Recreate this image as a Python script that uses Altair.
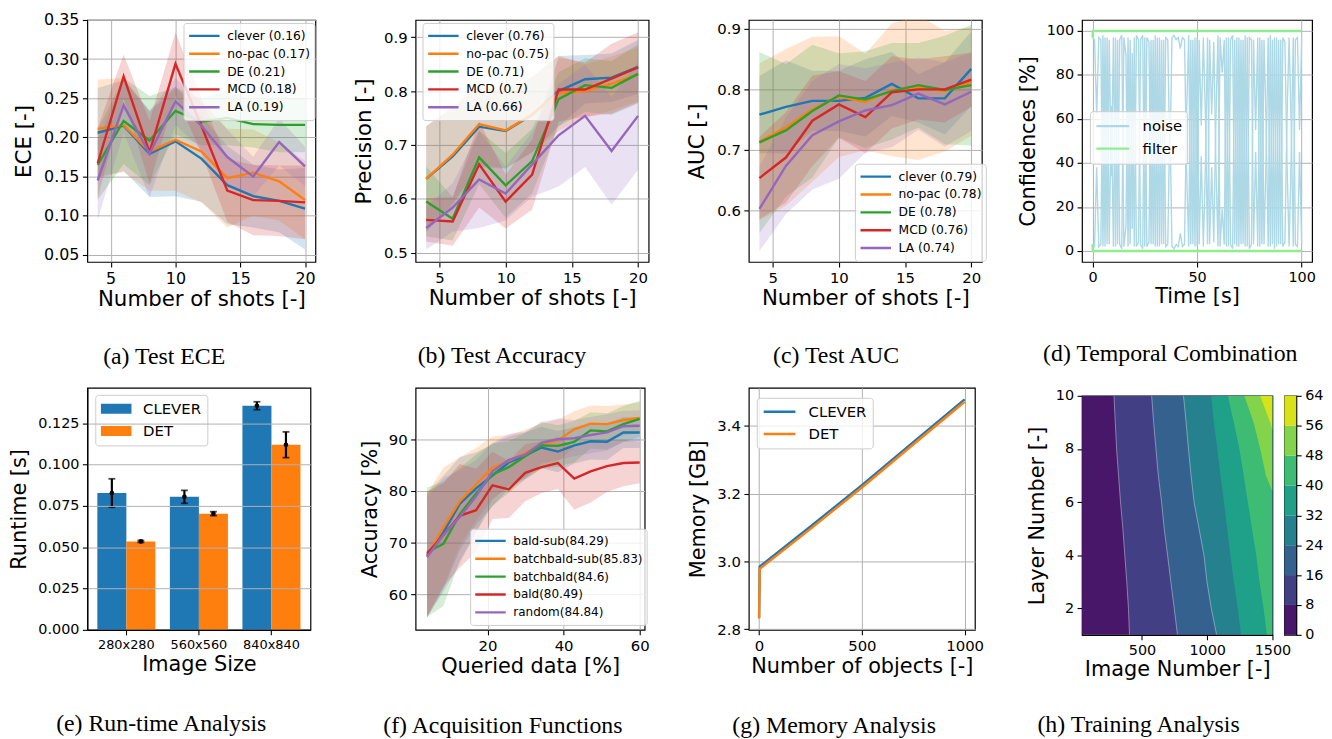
import altair as alt
import pandas as pd

SANS = "DejaVu Sans"
SERIF = "Liberation Serif"
TAB = ["#1f77b4", "#ff7f0e", "#2ca02c", "#d62728", "#9467bd"]

# ---------------- data ----------------
shots = [4, 6, 8, 10, 12, 14, 16, 18, 20]

ece_labels = ["clever (0.16)", "no-pac (0.17)", "DE (0.21)", "MCD (0.18)", "LA (0.19)"]
ece_clever = [0.206, 0.215, 0.179, 0.195, 0.173, 0.139, 0.125, 0.119, 0.109]
ece_nopac = [0.211, 0.216, 0.182, 0.197, 0.182, 0.148, 0.155, 0.144, 0.120]
ece_de = [0.165, 0.221, 0.196, 0.234, 0.220, 0.225, 0.217, 0.216, 0.216]
ece_mcd = [0.167, 0.278, 0.181, 0.294, 0.215, 0.132, 0.120, 0.119, 0.117]
ece_la = [0.145, 0.241, 0.179, 0.246, 0.215, 0.175, 0.150, 0.194, 0.163]
ece_clever_sd = [0.057, 0.058, 0.055, 0.070, 0.055, 0.050, 0.040, 0.040, 0.052]
ece_nopac_sd = [0.063, 0.060, 0.050, 0.065, 0.065, 0.063, 0.055, 0.050, 0.050]
ece_de_sd = [0.045, 0.055, 0.057, 0.030, 0.030, 0.035, 0.030, 0.035, 0.035]
ece_mcd_sd = [0.045, 0.028, 0.040, 0.040, 0.035, 0.040, 0.045, 0.045, 0.047]
ece_la_sd = [0.050, 0.035, 0.055, 0.030, 0.030, 0.035, 0.025, 0.030, 0.025]

prec_labels = ["clever (0.76)", "no-pac (0.75)", "DE (0.71)", "MCD (0.7)", "LA (0.66)"]
prec_clever = [0.637, 0.679, 0.734, 0.726, 0.756, 0.800, 0.822, 0.825, 0.845]
prec_nopac = [0.637, 0.682, 0.739, 0.727, 0.757, 0.796, 0.800, 0.814, 0.831]
prec_de = [0.595, 0.563, 0.677, 0.625, 0.670, 0.785, 0.811, 0.806, 0.832]
prec_mcd = [0.561, 0.558, 0.664, 0.595, 0.645, 0.803, 0.803, 0.823, 0.844]
prec_la = [0.546, 0.584, 0.636, 0.610, 0.664, 0.718, 0.754, 0.689, 0.754]
prec_clever_sd = [0.098, 0.090, 0.075, 0.070, 0.070, 0.065, 0.045, 0.045, 0.050]
prec_nopac_sd = [0.098, 0.090, 0.075, 0.070, 0.070, 0.070, 0.050, 0.050, 0.050]
prec_de_sd = [0.065, 0.040, 0.050, 0.060, 0.060, 0.050, 0.050, 0.050, 0.055]
prec_mcd_sd = [0.040, 0.045, 0.080, 0.050, 0.065, 0.060, 0.050, 0.065, 0.065]
prec_la_sd = [0.040, 0.045, 0.090, 0.050, 0.060, 0.095, 0.095, 0.100, 0.100]

auc_labels = ["clever (0.79)", "no-pac (0.78)", "DE (0.78)", "MCD (0.76)", "LA (0.74)"]
auc_clever = [0.758, 0.771, 0.781, 0.781, 0.786, 0.809, 0.785, 0.785, 0.834]
auc_nopac = [0.713, 0.737, 0.767, 0.788, 0.779, 0.799, 0.803, 0.797, 0.813]
auc_de = [0.712, 0.732, 0.764, 0.790, 0.783, 0.797, 0.807, 0.799, 0.807]
auc_mcd = [0.653, 0.687, 0.748, 0.775, 0.754, 0.795, 0.800, 0.800, 0.816]
auc_la = [0.602, 0.673, 0.724, 0.747, 0.765, 0.774, 0.793, 0.775, 0.796]
auc_clever_sd = [0.064, 0.077, 0.050, 0.050, 0.064, 0.053, 0.040, 0.060, 0.062]
auc_nopac_sd = [0.130, 0.130, 0.120, 0.100, 0.080, 0.110, 0.120, 0.100, 0.090]
auc_de_sd = [0.150, 0.110, 0.110, 0.070, 0.080, 0.080, 0.070, 0.090, 0.100]
auc_mcd_sd = [0.068, 0.075, 0.075, 0.055, 0.060, 0.060, 0.050, 0.055, 0.045]
auc_la_sd = [0.070, 0.080, 0.090, 0.095, 0.070, 0.070, 0.060, 0.070, 0.065]

time_s = list(range(0, 101))
noise_hi = [97, 96, 62, 97, 96, 2, 97, 3, 96, 34, 97, 2, 96, 3, 1, 97, 89, 2, 96, 10,
            97, 2, 4, 96, 98, 2, 97, 95, 3, 96, 2, 97, 2, 96, 3, 97, 96, 39, 97, 98,
            96, 97, 92, 97, 96, 37, 2, 96, 3, 97, 2, 96, 57, 97, 61, 3, 96, 62, 95, 40,
            2, 97, 81, 96, 2, 97, 3, 1, 96, 2, 97, 3, 96, 2, 97, 1, 3, 96, 55, 97,
            2, 96, 3, 42, 97, 2, 96, 1, 97, 3, 96, 2, 4, 60, 97, 58, 2, 96, 97, 55, 97]
noise_lo = [3, 2, 38, 2, 3, 98, 2, 97, 3, 66, 2, 97, 3, 96, 98, 2, 11, 97, 3, 90,
            2, 98, 96, 3, 1, 97, 2, 4, 96, 3, 98, 2, 97, 3, 96, 2, 3, 61, 2, 1,
            3, 2, 8, 2, 3, 63, 98, 3, 96, 2, 97, 3, 43, 2, 39, 97, 3, 38, 4, 60,
            98, 2, 19, 3, 97, 2, 96, 98, 3, 97, 2, 96, 3, 98, 2, 97, 96, 3, 45, 2,
            97, 3, 96, 58, 2, 98, 3, 97, 2, 96, 3, 97, 95, 40, 2, 42, 97, 3, 2, 45, 3]
filter_t = [0, 0.2, 100]
filter_hi = [97, 100, 100]
filter_lo = [3, 0, 0]

sizes = ["280x280", "560x560", "840x840"]
rt_clever = [0.0828, 0.0805, 0.1356]
rt_det = [0.0535, 0.0703, 0.1120]
rt_clever_err = [0.0086, 0.0039, 0.0024]
rt_det_err = [0.0006, 0.0012, 0.0078]

queried = [4.1, 8.4, 12.7, 17.0, 21.3, 25.6, 29.9, 34.2, 38.5, 42.8, 47.1, 51.4, 55.7, 60.0]
acq_labels = ["bald-sub(84.29)", "batchbald-sub(85.83)", "batchbald(84.6)", "bald(80.49)", "random(84.84)"]
acc_bald_sub = [67.5, 72.0, 77.5, 80.5, 83.0, 85.5, 86.8, 88.4, 87.6, 88.8, 89.6, 89.5, 91.3, 91.3]
acc_batchbald_sub = [67.5, 73.0, 78.0, 81.3, 84.5, 85.8, 87.3, 89.0, 89.8, 91.9, 93.0, 92.9, 93.7, 94.1]
acc_batchbald = [68.2, 69.8, 75.5, 79.5, 83.2, 84.6, 86.7, 88.8, 88.7, 89.5, 91.7, 91.5, 92.9, 93.9]
acc_bald = [67.9, 71.5, 75.2, 76.3, 81.1, 80.3, 83.5, 84.6, 85.4, 82.4, 83.8, 84.8, 85.4, 85.5]
acc_random = [67.2, 71.5, 75.0, 79.0, 83.8, 86.0, 87.0, 89.3, 90.0, 90.2, 90.8, 91.3, 92.5, 92.6]
acc_bald_sub_sd = [12, 11, 9, 7, 6, 5, 4.5, 4, 4, 3.5, 3.5, 3.5, 3, 3]
acc_batchbald_sub_sd = [12, 11.5, 8.5, 7, 6, 5, 4.5, 4, 4, 3.5, 3.5, 3.5, 3, 3]
acc_batchbald_sd = [12.5, 12, 9, 7.5, 6, 5, 4.5, 4.5, 4, 4, 3.5, 3.5, 3.5, 3.5]
acc_bald_sd = [12, 10, 10, 8, 6.5, 5.5, 5.5, 5, 5, 6, 6, 5, 4.5, 4]
acc_random_sd = [11.5, 11, 9, 7, 5.5, 5, 4.5, 4, 4, 3.5, 3.5, 3.5, 3, 3]

mem_x = [0, 3, 250, 500, 750, 1000]
mem_clever = [2.832, 2.985, 3.103, 3.225, 3.352, 3.478]
mem_det = [2.832, 2.978, 3.096, 3.218, 3.345, 3.471]

levels = [0, 8, 16, 24, 32, 40, 48, 56, 64]
band_colors = ["#481769", "#423f85", "#34618d", "#26818e", "#1fa088", "#3fbc73", "#84d44b", "#d8e219"]
layer_num = [1, 2, 3, 4, 5, 6, 7, 8, 9, 10]
img_start = [40, 40, 40, 40, 40, 40, 40, 40, 40, 40]
bound_8 = [404, 396, 383, 368, 353, 335, 320, 305, 295, 285]
bound_16 = [772, 747, 721, 696, 670, 650, 625, 607, 589, 574]
bound_24 = [1072, 1031, 998, 975, 937, 899, 876, 856, 838, 818]
bound_32 = [1259, 1234, 1204, 1178, 1153, 1128, 1102, 1077, 1051, 1031]
bound_40 = [1457, 1432, 1401, 1376, 1343, 1311, 1280, 1247, 1204, 1158]
layer_48 = [6.4, 7, 8, 9, 10]
bound_48 = [1500, 1450, 1407, 1356, 1285]
layer_56 = [8.7, 9, 10]
bound_56 = [1500, 1483, 1406]


# ---------------- helpers ----------------
def axis(values, title, fmt=None, size=15, tsize=21.5, tpad=2, **kw):
    d = dict(values=values, title=title, labelFontSize=size, titleFontSize=tsize, titlePadding=tpad)
    if fmt:
        d["format"] = fmt
    d.update(kw)
    return alt.Axis(**d)


def line_legend(orient, font=12.4, clip=18, pad=4, sym=30.7, loff=6, rowpad=0, **kw):
    return alt.Legend(title=None, orient=orient, labelFont=SANS, labelFontSize=font, labelColor="black",
                      symbolType="stroke", symbolSize=sym * sym, symbolStrokeWidth=2.4, clipHeight=clip,
                      padding=pad, labelOffset=loff, rowPadding=rowpad, symbolOpacity=1,
                      fillColor="rgba(255,255,255,0.8)", strokeColor="#cccccc", cornerRadius=3, **kw)


def cap(text, dx, offset):
    return alt.TitleParams(text=text, orient="bottom", anchor="middle", frame="group", font=SERIF,
                           fontSize=24, fontWeight="normal", color="black", dx=dx, offset=offset)


def band_panel(xvals, labels, series, sds, xdom, xticks, ydom, yticks, yfmt, xtitle, ytitle,
               legend, width, caption, dx, offset, lsize=15, tsize=21.5):
    rows = []
    for lab, ys, ss in zip(labels, series, sds):
        for x, y, s in zip(xvals, ys, ss):
            rows.append(dict(x=x, y=y, lo=y - s, hi=y + s, m=lab))
    df = pd.DataFrame(rows)
    X = alt.X("x:Q", scale=alt.Scale(domain=xdom, nice=False, zero=False),
              axis=axis(xticks, xtitle, size=lsize, tsize=tsize, tpad=2))
    ys_ = alt.Scale(domain=ydom, nice=False, zero=False)
    yax = axis(yticks, ytitle, fmt=yfmt, size=lsize, tsize=tsize, tpad=8)
    layers = []
    for i, lab in enumerate(labels):
        layers.append(alt.Chart(df).transform_filter(alt.datum.m == lab).mark_area(
            opacity=0.2, clip=True, color=TAB[i]).encode(
            x=X, y=alt.Y("lo:Q", scale=ys_, axis=yax), y2="hi:Q"))
    layers.append(alt.Chart(df).mark_line(strokeWidth=2.4, clip=True).encode(
        x=X, y=alt.Y("y:Q", scale=ys_, axis=yax),
        color=alt.Color("m:N", scale=alt.Scale(domain=labels, range=TAB), legend=legend)))
    return alt.layer(*layers).properties(width=width, height=244, title=cap(caption, dx, offset))


# ---------------- (a)(b)(c) ----------------
pa = band_panel(shots, ece_labels, [ece_clever, ece_nopac, ece_de, ece_mcd, ece_la],
                [ece_clever_sd, ece_nopac_sd, ece_de_sd, ece_mcd_sd, ece_la_sd],
                [3.2, 20.8], [5, 10, 15, 20], [0.041, 0.35], [0.05, 0.1, 0.15, 0.2, 0.25, 0.3, 0.35], ".2f",
                "Number of shots [-]", "ECE [-]", line_legend("none", legendX=97, legendY=3),
                230, "(a) Test ECE", -37.5, 36, lsize=16)
pb = band_panel(shots, prec_labels, [prec_clever, prec_nopac, prec_de, prec_mcd, prec_la],
                [prec_clever_sd, prec_nopac_sd, prec_de_sd, prec_mcd_sd, prec_la_sd],
                [3.2, 20.8], [5, 10, 15, 20], [0.483, 0.932], [0.5, 0.6, 0.7, 0.8, 0.9], ".1f",
                "Number of shots [-]", "Precision [-]", line_legend("none", legendX=7, legendY=3),
                235, "(b) Test Accuracy", -30.5, 36)
pc = band_panel(shots, auc_labels, [auc_clever, auc_nopac, auc_de, auc_mcd, auc_la],
                [auc_clever_sd, auc_nopac_sd, auc_de_sd, auc_mcd_sd, auc_la_sd],
                [3.2, 20.8], [5, 10, 15, 20], [0.514, 0.915], [0.6, 0.7, 0.8, 0.9], ".1f",
                "Number of shots [-]", "AUC [-]", line_legend("none", legendX=107, legendY=145),
                235, "(c) Test AUC", -29.5, 36)

# ---------------- (d) ----------------
n_rows = []
for t, a, b in zip(time_s, noise_hi, noise_lo):
    n_rows.append(dict(t=t, v=a, s="noise", k="n1"))
    n_rows.append(dict(t=t, v=b, s="noise", k="n2"))
f_rows = []
for t, a, b in zip(filter_t, filter_hi, filter_lo):
    f_rows.append(dict(t=t, v=a, s="filter", k="f1"))
    f_rows.append(dict(t=t, v=b, s="filter", k="f2"))
d_cs = alt.Scale(domain=["noise", "filter"], range=["#add8e6", "#90ee90"])
d_leg = line_legend("none", font=15, clip=20, pad=5, sym=33, loff=12, rowpad=2.7, legendX=8, legendY=92)
dX = alt.X("t:Q", scale=alt.Scale(domain=[-5, 105], nice=False),
           axis=axis([0, 50, 100], "Time [s]", size=14.5, tsize=21, tpad=2))
dY = alt.Y("v:Q", scale=alt.Scale(domain=[-5, 105], nice=False),
           axis=axis([0, 20, 40, 60, 80, 100], "Confidences [%]", size=14.5, tsize=21, tpad=8))
d_noise = alt.Chart(pd.DataFrame(n_rows)).mark_line(strokeWidth=1.4).encode(
    x=dX, y=dY, detail="k:N", color=alt.Color("s:N", scale=d_cs, legend=d_leg))
d_filter = alt.Chart(pd.DataFrame(f_rows)).mark_line(strokeWidth=2.4).encode(
    x=dX, y=dY, detail="k:N", color=alt.Color("s:N", scale=d_cs, legend=d_leg))
pd_ = alt.layer(d_noise, d_filter).properties(width=232, height=244,
                                              title=cap("(d) Temporal Combination", -27, 36))

# ---------------- (e) ----------------
e_rows = []
for s, v, err in zip(sizes, rt_clever, rt_clever_err):
    e_rows.append(dict(size=s, m="CLEVER", v=v, lo=v - err, hi=v + err))
for s, v, err in zip(sizes, rt_det, rt_det_err):
    e_rows.append(dict(size=s, m="DET", v=v, lo=v - err, hi=v + err))
e_df = pd.DataFrame(e_rows)
eX = alt.X("size:N", sort=sizes, scale=alt.Scale(paddingInner=0.2, paddingOuter=0.138),
           axis=alt.Axis(title="Image Size", labelAngle=0, bandPosition=0.5, labelFontSize=13,
                         titleFontSize=21, titlePadding=2, zindex=1, domain=True, domainColor="black",
                         domainWidth=1.2))
eXo = alt.XOffset("m:N", sort=["CLEVER", "DET"], scale=alt.Scale(paddingInner=0, paddingOuter=0))
eYs = alt.Scale(domain=[0, 0.1464], nice=False)
eYax = axis([0, 0.025, 0.05, 0.075, 0.1, 0.125], "Runtime [s]", fmt=".3f", size=14.5, tsize=21, tpad=8,
            zindex=1, domain=True, domainColor="black", domainWidth=1.2)
e_leg = alt.Legend(title=None, orient="none", legendX=8, legendY=7, labelFont=SANS, labelFontSize=15,
                   labelColor="black",
                   symbolType="M-1,-0.33H1V0.33H-1Z", symbolSize=961, symbolStrokeWidth=0, clipHeight=17,
                   rowPadding=5.5, padding=5.5, labelOffset=11.7, fillColor="rgba(255,255,255,0.8)",
                   strokeColor="#cccccc", cornerRadius=3)
e_bars = alt.Chart(e_df).mark_bar().encode(
    x=eX, xOffset=eXo, y=alt.Y("v:Q", scale=eYs, axis=eYax),
    color=alt.Color("m:N", scale=alt.Scale(domain=["CLEVER", "DET"], range=TAB[:2]), legend=e_leg))
e_rule = alt.Chart(e_df).mark_rule(color="black", strokeWidth=2.2).encode(
    x=eX, xOffset=eXo, y=alt.Y("lo:Q", scale=eYs, axis=eYax), y2="hi:Q")
e_cap_lo = alt.Chart(e_df).mark_tick(color="black", thickness=1.8, size=7).encode(
    x=eX, xOffset=eXo, y=alt.Y("lo:Q", scale=eYs, axis=eYax))
e_cap_hi = alt.Chart(e_df).mark_tick(color="black", thickness=1.8, size=7).encode(
    x=eX, xOffset=eXo, y=alt.Y("hi:Q", scale=eYs, axis=eYax))
e_dot = alt.Chart(e_df).mark_point(filled=True, color="black", size=22, opacity=1).encode(
    x=eX, xOffset=eXo, y=alt.Y("v:Q", scale=eYs, axis=eYax))
pe = alt.layer(e_bars, e_rule, e_cap_lo, e_cap_hi, e_dot).properties(
    width=225, height=244, title=cap("(e) Run-time Analysis", -38, 38))

# ---------------- (f) ----------------
f_leg = line_legend("none", font=12.1, clip=17.6, pad=3.5, legendX=55, legendY=142)
pf = band_panel(queried, acq_labels, [acc_bald_sub, acc_batchbald_sub, acc_batchbald, acc_bald, acc_random],
                [acc_bald_sub_sd, acc_batchbald_sub_sd, acc_batchbald_sd, acc_bald_sd, acc_random_sd],
                [1.1, 61.3], [20, 40, 60], [53.2, 99.9], [60, 70, 80, 90], "d",
                "Queried data [%]", "Accuracy [%]", f_leg, 231, "(f) Acquisition Functions", -27.5, 38,
                lsize=15, tsize=21)

# ---------------- (g) ----------------
g_rows = []
for x, a in zip(mem_x, mem_clever):
    g_rows.append(dict(x=x, y=a, m="CLEVER"))
for x, b in zip(mem_x, mem_det):
    g_rows.append(dict(x=x, y=b, m="DET"))
g_leg = line_legend("none", font=15, clip=17, pad=5.5, sym=32, loff=11.7, rowpad=5.5, legendX=8, legendY=10)
pg = alt.Chart(pd.DataFrame(g_rows)).mark_line(strokeWidth=2.4).encode(
    x=alt.X("x:Q", scale=alt.Scale(domain=[-50, 1050], nice=False),
            axis=axis([0, 500, 1000], "Number of objects [-]", fmt="d", size=15, tsize=21, tpad=2)),
    y=alt.Y("y:Q", scale=alt.Scale(domain=[2.798, 3.512], nice=False, zero=False),
            axis=axis([2.8, 3.0, 3.2, 3.4], "Memory [GB]", fmt=".1f", size=15, tsize=21, tpad=8)),
    color=alt.Color("m:N", scale=alt.Scale(domain=["CLEVER", "DET"], range=TAB[:2]), legend=g_leg),
).properties(width=228, height=244, title=cap("(g) Memory Analysis", -28, 38))

# ---------------- (h) ----------------
hXs = alt.Scale(domain=[40, 1500], nice=False, zero=False)
hYs = alt.Scale(domain=[1, 10], nice=False, zero=False)
hXax = axis([500, 1000, 1500], "Image Number [-]", fmt="d", size=14.5, tsize=21, tpad=2, grid=False,
            domain=True, domainColor="black", domainWidth=1.2)
hYax = axis([2, 4, 6, 8, 10], "Layer Number [-]", fmt="d", size=14.5, tsize=21, tpad=8, grid=False,
            domain=True, domainColor="black", domainWidth=1.2)
bounds = [(layer_num, img_start), (layer_num, bound_8), (layer_num, bound_16), (layer_num, bound_24),
          (layer_num, bound_32), (layer_num, bound_40), (layer_48, bound_48), (layer_56, bound_56)]
h_layers = []
for i, (ly, bx) in enumerate(bounds):
    df = pd.DataFrame({"layer": ly, "b": bx})
    h_layers.append(alt.Chart(df).mark_area(orient="horizontal", clip=True, color=band_colors[i]).encode(
        y=alt.Y("layer:Q", scale=hYs, axis=hYax),
        x=alt.X("b:Q", scale=hXs, axis=hXax),
        x2=alt.X2Datum(1500)))
for i, (ly, bx) in enumerate(bounds[1:4]):
    df = pd.DataFrame({"layer": ly, "b": bx})
    h_layers.append(alt.Chart(df).mark_line(clip=True, color="#d8d8e8", strokeWidth=0.7, opacity=0.7).encode(
        y=alt.Y("layer:Q", scale=hYs, axis=hYax),
        x=alt.X("b:Q", scale=hXs, axis=hXax),
        order="layer:Q"))
ph = alt.layer(*h_layers).properties(width=192, height=241,
                                     title=cap("(h) Training Analysis", -39, 34))

cbar_df = pd.DataFrame({"lo": levels[:-1], "hi": levels[1:], "c": band_colors})
cbar = alt.Chart(cbar_df).mark_rect().encode(
    x=alt.XDatum(0, scale=alt.Scale(domain=[0, 1]), axis=None),
    x2=alt.X2Datum(1),
    y=alt.Y("lo:Q", scale=alt.Scale(domain=[0, 64], nice=False),
            axis=alt.Axis(orient="right", values=levels, grid=False, title=None, labelFontSize=14.5,
                          domain=True, domainColor="black")),
    y2="hi:Q",
    color=alt.Color("c:N", scale=None),
).properties(width=12, height=241)

spacer = alt.Chart(pd.DataFrame({"v": [0]})).mark_point(opacity=0).encode(
    x=alt.XDatum(0, axis=None), y=alt.YDatum(0, axis=None)
).properties(width=1, height=1, view=alt.ViewBackground(stroke="transparent"))

h_block = alt.vconcat(
    spacer,
    alt.hconcat(ph, cbar, spacing=12, bounds="flush"),
    spacing=7, bounds="flush")

# ---------------- layout ----------------
chart = alt.concat(
    pa, pb, pc, pd_, pe, pf, pg, h_block,
    columns=4, spacing={"row": 127, "column": 101}, bounds="flush",
    align={"row": "all", "column": "none"},
).resolve_scale(
    color="independent"
).properties(
    padding={"left": 0, "top": 0, "right": 0, "bottom": 0}
).configure(font=SANS).configure_axis(
    labelFont=SANS, titleFont=SANS, labelColor="black", titleColor="black", tickColor="black",
    tickSize=5, tickWidth=1.1, labelPadding=3.5, domain=False, gridColor="#b0b0b0", gridWidth=1,
    titleFontWeight="normal", labelFlush=False, labelOverlap=False
).configure_view(stroke="black", strokeWidth=1.2).configure_title(
    font=SERIF, fontSize=24, fontWeight="normal", color="black"
)

chart.save("out.html", embed_options={"renderer": "svg", "actions": False})
